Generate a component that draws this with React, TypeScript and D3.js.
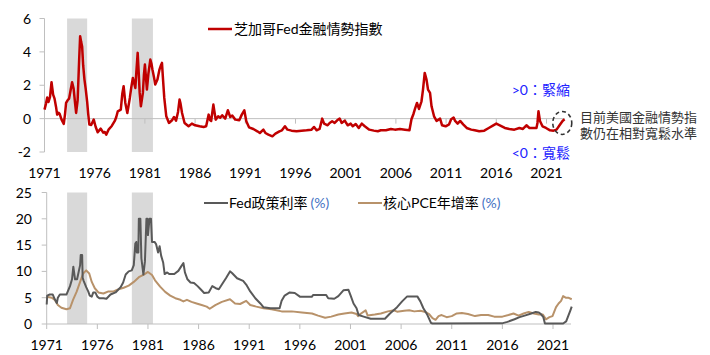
import React from 'react';
import * as d3 from 'd3';

// ---------- DATA ----------
const xTickYears = [1971, 1976, 1981, 1986, 1991, 1996, 2001, 2006, 2011, 2016, 2021];
const topYTicks = [-2, 0, 2, 4, 6];
const botYTicks = [0, 5, 10, 15, 20, 25];
const shadeStart = [1973.25, 1979.7];
const shadeEnd = [1975.25, 1981.8];

const nfciDates = [1971.0,1971.15,1971.27,1971.4,1971.55,1971.7,1971.86,1972.0,1972.15,1972.26,1972.4,1972.5,1972.7,1972.92,1973.05,1973.15,1973.3,1973.45,1973.6,1973.75,1973.9,1974.05,1974.15,1974.3,1974.45,1974.55,1974.65,1974.75,1974.85,1974.98,1975.1,1975.25,1975.35,1975.47,1975.65,1975.9,1976.1,1976.3,1976.6,1976.85,1977.0,1977.15,1977.4,1977.7,1978.0,1978.15,1978.3,1978.6,1978.75,1978.88,1979.05,1979.25,1979.5,1979.65,1979.8,1980.05,1980.15,1980.28,1980.38,1980.48,1980.6,1980.8,1980.9,1981.0,1981.1,1981.2,1981.35,1981.54,1981.65,1981.75,1981.9,1982.03,1982.25,1982.45,1982.6,1982.7,1982.8,1982.93,1983.13,1983.4,1983.7,1983.9,1984.1,1984.3,1984.45,1984.55,1984.7,1984.95,1985.35,1985.68,1986.0,1986.45,1986.85,1987.1,1987.35,1987.5,1987.6,1987.82,1988.05,1988.3,1988.5,1988.7,1989.0,1989.26,1989.5,1989.7,1990.0,1990.4,1990.65,1990.9,1991.1,1991.37,1991.8,1992.2,1992.45,1992.8,1993.0,1993.3,1993.7,1994.0,1994.4,1994.65,1994.95,1995.2,1995.6,1996.1,1996.6,1997.1,1997.6,1997.85,1998.1,1998.4,1998.66,1998.85,1999.2,1999.4,1999.65,1999.9,2000.15,2000.4,2000.6,2000.9,2001.2,2001.5,2001.7,2002.0,2002.3,2002.6,2002.9,2003.35,2003.8,2004.2,2004.5,2005.0,2005.5,2005.9,2006.4,2006.9,2007.35,2007.55,2007.75,2007.9,2008.1,2008.3,2008.55,2008.7,2008.87,2009.05,2009.2,2009.4,2009.55,2009.8,2010.05,2010.4,2010.6,2010.95,2011.3,2011.5,2011.75,2011.9,2012.15,2012.4,2012.7,2013.05,2013.5,2013.85,2014.3,2014.8,2015.25,2015.7,2016.0,2016.35,2016.85,2017.3,2017.8,2018.3,2018.65,2019.0,2019.3,2019.7,2020.0,2020.1,2020.2,2020.35,2020.6,2020.95,2021.35,2021.7,2022.0,2022.3,2022.6,2022.8];
const nfciValues = [0.54,0.9,1.26,1.0,1.3,2.18,1.44,1.2,0.7,0.24,0.35,0.3,-0.06,-0.32,0.3,0.94,1.1,1.2,1.7,2.18,1.8,0.9,0.34,1.1,3.5,4.94,4.6,4.3,3.2,2.34,1.8,1.0,0.3,-0.36,-0.38,-0.06,-0.5,-0.82,-0.6,-0.84,-0.8,-0.96,-0.64,-0.44,-0.14,0.1,0.44,0.54,1.5,1.94,0.94,0.34,1.24,1.9,2.44,1.84,2.8,3.94,2.8,1.54,0.74,1.54,2.6,3.24,2.5,1.74,2.7,3.54,3.3,2.94,2.5,2.04,2.34,2.94,3.2,3.34,2.4,1.24,0.14,-0.26,-0.1,0.1,-0.12,0.4,1.14,0.9,0.34,-0.26,-0.46,-0.3,-0.4,-0.46,-0.5,-0.46,0.24,-0.1,-0.14,0.84,-0.06,0.14,0.05,0.2,0.0,0.5,0.1,0.18,-0.06,-0.1,0.24,0.5,-0.16,-0.52,-0.62,-0.76,-0.86,-0.66,-0.86,-0.96,-1.06,-0.9,-0.76,-0.7,-0.46,-0.66,-0.72,-0.76,-0.72,-0.7,-0.66,-0.5,-0.7,-0.62,0.0,-0.3,-0.4,-0.26,-0.16,-0.26,-0.1,0.0,-0.26,-0.12,-0.4,-0.3,-0.46,-0.32,-0.56,-0.3,-0.46,-0.66,-0.72,-0.76,-0.7,-0.7,-0.62,-0.66,-0.62,-0.66,-0.7,-0.04,0.28,0.58,0.94,0.58,1.04,1.74,2.74,2.34,1.74,1.54,0.74,0.14,-0.14,0.0,-0.4,-0.46,-0.34,-0.04,0.06,-0.14,-0.3,-0.14,-0.34,-0.56,-0.66,-0.7,-0.76,-0.72,-0.56,-0.4,-0.3,-0.4,-0.56,-0.62,-0.66,-0.56,-0.62,-0.4,-0.56,-0.56,-0.56,-0.26,0.44,-0.14,-0.46,-0.56,-0.7,-0.72,-0.66,-0.4,-0.14,-0.04];

const fedDates = [1971.0,1971.05,1971.3,1971.6,1971.8,1972.0,1972.1,1972.3,1972.95,1973.3,1973.5,1973.63,1973.8,1974.0,1974.3,1974.36,1974.5,1974.55,1974.65,1974.9,1975.1,1975.25,1975.45,1975.6,1975.8,1976.0,1976.2,1976.6,1976.9,1977.3,1977.8,1978.3,1978.55,1978.8,1979.1,1979.4,1979.6,1979.75,1979.85,1979.9,1980.05,1980.1,1980.25,1980.35,1980.55,1980.7,1980.85,1980.95,1981.0,1981.15,1981.3,1981.4,1981.65,1981.8,1982.0,1982.15,1982.3,1982.5,1982.65,1982.9,1983.1,1983.6,1984.0,1984.3,1984.5,1984.65,1984.9,1985.2,1985.55,1985.9,1986.2,1986.55,1987.0,1987.35,1987.7,1988.0,1988.3,1988.7,1989.1,1989.3,1989.8,1990.4,1990.7,1991.1,1991.6,1992.1,1992.4,1993.1,1994.0,1994.2,1994.5,1995.0,1995.5,1996.0,1997.2,1997.3,1998.6,1998.8,1999.4,1999.8,2000.3,2000.8,2001.0,2001.3,2001.6,2001.8,2002.3,2003.0,2003.6,2004.4,2004.9,2005.6,2006.1,2006.6,2007.6,2007.9,2008.2,2008.6,2008.95,2009.1,2015.95,2016.5,2017.2,2017.7,2018.2,2018.85,2019.3,2019.6,2019.8,2020.05,2020.2,2022.0,2022.3,2022.5,2022.7,2022.85];
const fedValues = [3.7,5.4,5.6,5.6,4.7,4.0,5.0,5.6,5.6,7.2,8.5,10.9,8.5,8.5,11.2,13.1,13.1,8.8,8.2,7.0,6.2,5.4,5.2,6.0,6.0,5.2,4.9,4.9,4.8,5.6,6.0,7.0,7.9,9.4,10.0,10.2,11.2,15.3,15.6,13.6,13.6,20.0,20.0,12.5,9.4,11.9,20.0,20.0,16.9,20.0,20.0,15.6,15.6,15.2,13.6,14.8,13.0,11.7,9.5,9.8,9.5,9.5,10.1,11.0,11.6,9.8,8.5,7.9,7.8,7.2,6.6,5.9,6.0,7.2,6.8,6.6,7.5,8.7,10.0,9.7,8.7,8.2,7.5,6.2,4.9,3.9,3.2,3.0,3.0,4.4,5.4,6.0,5.9,5.2,5.2,5.5,5.5,4.9,4.8,5.3,6.4,6.5,5.5,3.9,3.0,1.7,1.4,1.0,1.0,1.0,2.0,3.2,4.3,5.25,5.25,4.3,3.0,1.7,0.2,0.1,0.12,0.4,0.9,1.3,1.6,2.0,2.3,2.2,1.9,1.3,0.1,0.1,0.5,1.5,2.5,3.3];

const pceDates = [1971.0,1971.5,1971.8,1972.1,1972.45,1972.95,1973.3,1973.6,1973.95,1974.3,1974.6,1974.9,1975.2,1975.45,1975.75,1976.1,1976.6,1977.1,1977.6,1978.1,1978.6,1979.1,1979.6,1980.1,1980.6,1981.0,1981.4,1981.7,1982.2,1982.7,1983.2,1983.7,1984.2,1984.5,1984.85,1985.3,1985.8,1986.3,1986.8,1987.1,1987.65,1988.3,1989.1,1989.6,1990.1,1990.7,1991.1,1991.7,1992.4,1993.2,1994.2,1995.2,1996.2,1997.2,1997.8,1998.5,1999.1,1999.8,2000.4,2001.1,2001.6,2001.75,2001.9,2002.5,2002.7,2003.4,2004.0,2004.7,2005.3,2005.6,2006.3,2006.8,2007.3,2007.9,2008.4,2008.75,2009.1,2009.4,2009.7,2010.0,2010.5,2011.0,2011.5,2012.0,2012.6,2013.3,2013.9,2014.6,2015.2,2016.0,2016.6,2017.1,2017.6,2018.1,2018.6,2019.1,2019.6,2020.0,2020.3,2020.65,2020.95,2021.3,2021.55,2021.8,2022.0,2022.25,2022.5,2022.85];
const pceValues = [5.2,5.0,4.6,3.6,3.1,2.8,3.0,4.6,6.1,8.0,9.6,10.2,9.6,8.0,6.8,6.0,5.8,6.2,6.2,6.6,6.9,7.3,8.0,8.9,9.4,9.9,9.3,8.3,7.1,6.1,5.4,4.9,4.6,4.3,4.6,4.2,3.9,3.6,3.3,2.9,3.6,4.2,4.7,3.9,3.8,4.4,3.6,3.3,3.0,2.8,2.4,2.4,2.2,2.0,1.6,1.2,1.4,1.8,2.0,2.2,1.9,1.5,1.8,2.6,1.6,1.8,2.0,2.4,2.6,2.35,2.5,2.6,2.4,2.5,2.3,1.9,1.1,0.8,1.5,1.7,1.3,1.5,2.0,2.1,1.9,1.5,1.7,1.7,1.4,1.4,1.7,2.0,1.6,2.0,2.3,2.0,1.8,1.8,0.9,1.3,1.5,3.2,3.9,4.4,5.3,5.0,5.0,4.7];

const topLegend = '芝加哥Fed金融情勢指數';
const fedLegend = 'Fed政策利率';
const pceLegend = '核心PCE年增率';
const unitLabel = '(%)';
const tightLabel = '>0：緊縮';
const looseLabel = '<0：寬鬆';
const noteLines = ['目前美國金融情勢指', '數仍在相對寬鬆水準'];
const noteAt = { year: 2022.57, value: -0.26 };

// ---------- STYLE ----------
const FONT = 'Lato, "Noto Sans CJK TC", sans-serif';
const RED = '#C00000';
const GRAY = '#595959';
const TAN = '#B8926A';
const SHADE = '#D9D9D9';
const AXIS = '#BFBFBF';
const BLUE = '#2222FF';

export default function App() {
  const xTop = d3.scaleLinear().domain([1971, 2021]).range([44.5, 546.5]);
  const yTop = d3.scaleLinear().domain([-2, 6]).range([152, 18.5]);
  const xBot = d3.scaleLinear().domain([1971, 2021]).range([46.7, 553]);
  const yBot = d3.scaleLinear().domain([0, 25]).range([324, 192.5]);

  const topLine = d3.line<number>().x((d, i) => xTop(nfciDates[i])).y((d) => yTop(d));
  const fedLine = d3.line<number>().x((d, i) => xBot(fedDates[i])).y((d) => yBot(d));
  const pceLine = d3.line<number>().x((d, i) => xBot(pceDates[i])).y((d) => yBot(d));

  const topEnd = 565;
  const botEnd = 571;

  return (
    <svg width={710} height={355} style={{ position: 'absolute', left: 0, top: 0, fontFamily: FONT }}>
      <rect x={0} y={0} width={710} height={355} fill="#fff" />
      {shadeStart.map((s, i) => (
        <g key={'sh' + i}>
          <rect x={xTop(s)} y={yTop(6)} width={xTop(shadeEnd[i]) - xTop(s)} height={yTop(-2) - yTop(6)} fill={SHADE} />
          <rect x={xTop(s)} y={yBot(25)} width={xTop(shadeEnd[i]) - xTop(s)} height={yBot(0) - yBot(25)} fill={SHADE} />
        </g>
      ))}

      <line x1={xTop(1971)} x2={xTop(1971)} y1={yTop(6)} y2={yTop(-2)} stroke={AXIS} />
      {topYTicks.map((t) => (
        <g key={'ty' + t}>
          <line x1={xTop(1971) - 5} x2={xTop(1971)} y1={yTop(t)} y2={yTop(t)} stroke={AXIS} />
          <text x={31} y={yTop(t)} dy="0.36em" textAnchor="end" fontSize={14} fill="#000">{t}</text>
        </g>
      ))}
      <line x1={xTop(1971)} x2={topEnd} y1={yTop(0)} y2={yTop(0)} stroke={AXIS} />
      {xTickYears.map((t) => (
        <g key={'tx' + t}>
          <line x1={xTop(t)} x2={xTop(t)} y1={yTop(0)} y2={yTop(0) + 5} stroke={AXIS} />
          <text x={xTop(t)} y={178} textAnchor="middle" fontSize={14} fill="#000">{t}</text>
        </g>
      ))}

      <path d={topLine(nfciValues) || ''} fill="none" stroke={RED} strokeWidth={2.5} strokeLinejoin="round" />

      <line x1={208} x2={232} y1={29} y2={29} stroke={RED} strokeWidth={2.5} />
      <text x={234} y={34} fontSize={14} fill="#000">{topLegend}</text>

      <text x={570} y={95} textAnchor="end" fontSize={14} fill={BLUE}>{tightLabel}</text>
      <text x={570} y={158} textAnchor="end" fontSize={14} fill={BLUE}>{looseLabel}</text>
      <ellipse cx={xTop(noteAt.year)} cy={yTop(noteAt.value)} rx={9.5} ry={11.5} fill="none" stroke="#333" strokeWidth={1.6} strokeDasharray="4 3" />
      {noteLines.map((l, i) => (
        <text key={'n' + i} x={580} y={122 + i * 16} fontSize={13} fill="#333">{l}</text>
      ))}

      <line x1={xBot(1971)} x2={xBot(1971)} y1={yBot(25)} y2={yBot(0)} stroke={AXIS} />
      {botYTicks.map((t) => (
        <g key={'by' + t}>
          <line x1={xBot(1971) - 5} x2={xBot(1971)} y1={yBot(t)} y2={yBot(t)} stroke={AXIS} />
          <text x={32} y={yBot(t)} dy="0.36em" textAnchor="end" fontSize={14} fill="#000">{t}</text>
        </g>
      ))}
      <line x1={xBot(1971)} x2={botEnd} y1={yBot(0)} y2={yBot(0)} stroke={AXIS} />
      {xTickYears.map((t) => (
        <g key={'bx' + t}>
          <line x1={xBot(t)} x2={xBot(t)} y1={yBot(0)} y2={yBot(0) + 5} stroke={AXIS} />
          <text x={xBot(t)} y={350} textAnchor="middle" fontSize={14} fill="#000">{t}</text>
        </g>
      ))}

      <path d={pceLine(pceValues) || ''} fill="none" stroke={TAN} strokeWidth={2} strokeLinejoin="round" />
      <path d={fedLine(fedValues) || ''} fill="none" stroke={GRAY} strokeWidth={2} strokeLinejoin="round" />

      <line x1={204} x2={228} y1={203} y2={203} stroke={GRAY} strokeWidth={2} />
      <text x={229} y={208} fontSize={14} fill="#000">
        {fedLegend}
        <tspan fill="#4472C4" dx={3}>{unitLabel}</tspan>
      </text>
      <line x1={358} x2={382} y1={203} y2={203} stroke={TAN} strokeWidth={2} />
      <text x={383} y={208} fontSize={14} fill="#000">
        {pceLegend}
        <tspan fill="#4472C4" dx={3}>{unitLabel}</tspan>
      </text>
    </svg>
  );
}
